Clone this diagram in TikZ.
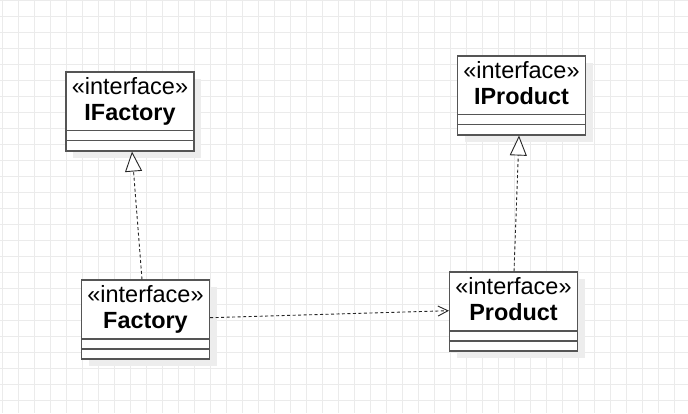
\documentclass[tikz,border=0pt]{standalone}
\usepackage{fontspec}
\setmainfont{Liberation Sans}
\usetikzlibrary{arrows.meta,calc}
\definecolor{gridc}{HTML}{EBEBEB}
\definecolor{linec}{HTML}{555555}
\definecolor{shadowc}{HTML}{EDEDED}
\tikzset{
  umlbox/.style={draw=linec, line width=1.1pt, fill=white, rectangle, minimum width=128pt, minimum height=79pt, inner sep=0pt},
  stereo/.style={anchor=base, inner sep=0pt, font=\fontsize{23.5}{27}\selectfont},
  clsname/.style={anchor=base, inner sep=0pt, font=\fontsize{23.4}{27}\selectfont\bfseries},
  sepline/.style={draw=linec, line width=1.1pt},
  dep/.style={draw=black!85, line width=0.9pt, dash pattern=on 3pt off 2.5pt},
  realize/.style={dep, -{Triangle[open, length=20pt, width=17pt, fill=white, line width=0.9pt]}},
  usearrow/.style={dep, -{Straight Barb[length=10pt, width=10pt, line width=0.9pt]}}
}
\begin{document}
\begin{tikzpicture}[x=1pt, y=1pt]
\useasboundingbox (0,0) rectangle (688,413);
\fill[white] (0,0) rectangle (688,413);
% grid
\foreach \k in {0,...,42} {
  \draw[gridc, line width=1pt] (2.7+16*\k,0) -- (2.7+16*\k,413);
}
\foreach \k in {0,...,25} {
  \draw[gridc, line width=1pt] (0,412.7-16*\k) -- (688,412.7-16*\k);
}
% shadows
\foreach \cx/\cy in {130/301.5, 521.5/317.5, 145.5/93.5, 513.5/101.5} {
  \fill[shadowc] (\cx-64+7,\cy-39.5-7) rectangle (\cx+64+7,\cy+39.5-7);
}
% boxes
\node[umlbox] (ifac) at (130,301.5) {};
\node[umlbox] (iprod) at (521.5,317.5) {};
\node[umlbox] (fac) at (145.5,93.5) {};
\node[umlbox] (prod) at (513.5,101.5) {};
\foreach \b/\n in {ifac/IFactory, iprod/IProduct, fac/Factory, prod/Product} {
  \node[stereo] (\b-st) at ($(\b.north)+(0,-23)$) {«interface»};
  \node[clsname] (\b-nm) at ($(\b.north)+(0,-49)$) {\n};
  \draw[sepline] ($(\b.north west)+(0,-59.5)$) -- ($(\b.north east)+(0,-59.5)$);
  \draw[sepline] ($(\b.north west)+(0,-69.5)$) -- ($(\b.north east)+(0,-69.5)$);
}
% connectors
\draw[realize] ($(fac.north)+(-3.5,0)$) -- ($(ifac.south)+(2,0)$);
\draw[realize] ($(prod.north)+(0.5,0)$) -- ($(iprod.south)+(-2.5,0)$);
\draw[usearrow] ($(fac.east)+(0,1.8)$) -- ($(prod.west)+(0,0.8)$);
\end{tikzpicture}
\end{document}
